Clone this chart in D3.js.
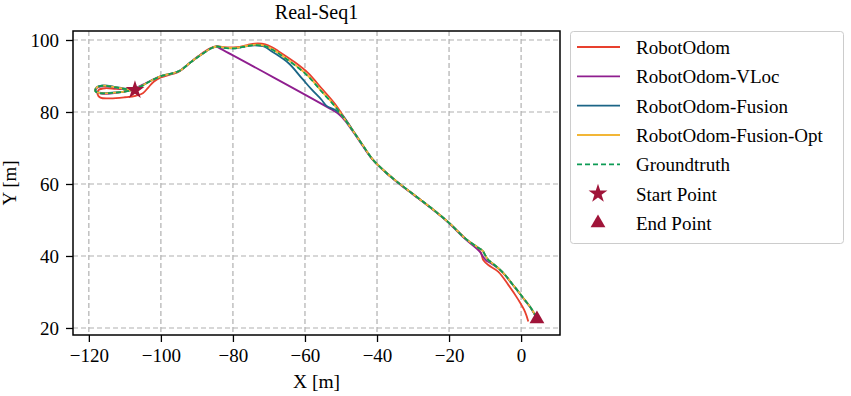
<!DOCTYPE html>
<html>
<head>
<meta charset="utf-8">
<script src="https://cdn.jsdelivr.net/npm/d3@7.9.0/dist/d3.min.js"></script>
<style>
  body { margin: 0; background: #fff; }
  svg text { font-family: "Liberation Serif", "DejaVu Serif", serif; fill: #000; }
</style>
</head>
<body>
<svg id="chart" width="851" height="396"></svg>
<script>
// trajectory data, [x, y] in metres
const groundtruth = [
  [-107.2, 86.1], [-110, 86.4], [-113, 86.9], [-115.8, 87.3], [-117.8, 86.8], [-118.2, 85.8],
  [-116.5, 85.2], [-113.5, 85.3], [-110.5, 85.6], [-107.5, 86.2], [-105, 87.4], [-102.5, 88.8],
  [-99.5, 90.1], [-96.5, 90.8], [-94.5, 91.6], [-92, 93.6], [-89, 95.8], [-86, 97.7], [-84.5, 98.2],
  [-82.5, 97.8], [-79.5, 97.7], [-76, 98.3], [-73.9, 98.6], [-71.1, 98.3], [-69, 97.3], [-67.4, 96.3],
  [-65, 94.6], [-62.8, 93.0], [-59.1, 89.9], [-55.4, 85.7], [-51.7, 81.6], [-48.9, 77.9], [-46.5, 74.5],
  [-44, 70.8], [-41.1, 66.7], [-37.5, 63.2], [-34.4, 60.6], [-30, 57.2], [-25.3, 53.6], [-20, 49.2],
  [-15.5, 44.9], [-12.2, 42.5], [-10.7, 41.5], [-10, 40.3], [-9.2, 39.0], [-8.4, 38.3], [-6.3, 36.6],
  [-4.4, 34.7], [-2.5, 32.3], [-0.75, 30.1], [1, 27.8], [2.5, 25.9], [3.9, 23.6], [4.4, 22.6]
];
const robotOdom = [
  [-107.2, 86.1], [-109.5, 86.3], [-112.5, 86.4], [-115.5, 86.6], [-117.3, 86.1], [-117.6, 85.0],
  [-116.8, 84.0], [-114, 83.8], [-110, 84.1], [-107, 84.5], [-105, 85.2], [-103.5, 86.8],
  [-102, 88.4], [-100, 89.6], [-97, 90.5], [-95, 91.2], [-92.5, 93.2], [-89.5, 95.6], [-86.5, 97.6],
  [-84.5, 98.3], [-82.5, 98.0], [-79, 98.0], [-76, 98.6], [-73.9, 99.0], [-71, 98.8], [-69, 97.9],
  [-67.4, 96.9], [-62.8, 93.8], [-59.1, 90.8], [-55.4, 86.6], [-51.7, 82.3], [-48.9, 78.2], [-46.5, 74.6],
  [-44, 70.8], [-41.1, 66.7], [-37.5, 63.2], [-34.4, 60.6], [-30, 57.2], [-25.3, 53.6], [-20, 49.2],
  [-15.5, 44.9], [-12.5, 42.4], [-11.2, 41.0], [-10.9, 40.1], [-10.5, 38.9], [-9.1, 37.5], [-6.3, 35.6],
  [-3.5, 31.9], [-0.75, 27.8], [1.1, 24.5], [2.0, 21.8]
];
const robotOdomVLoc = [
  [-107.2, 86.1], [-110, 86.3], [-113, 86.8], [-115.8, 87.2], [-117.7, 86.7], [-118.1, 85.8],
  [-116.5, 85.1], [-113.5, 85.2], [-110.5, 85.6], [-107.5, 86.4], [-105, 87.6], [-102.5, 88.9],
  [-99.5, 90.1], [-96.5, 90.8], [-94.5, 91.6], [-92, 93.6], [-89, 95.8], [-86, 97.7], [-84.5, 98.1],
  [-83.5, 97.6], [-52.5, 80.6], [-50.5, 79.3], [-48.9, 77.6], [-46.5, 74.3], [-44, 70.6], [-41.1, 66.6],
  [-37.5, 63.1], [-34.4, 60.5], [-30, 57.1], [-25.3, 53.5], [-20, 49.1], [-15.5, 44.7], [-12.5, 42.2],
  [-11.3, 41.0], [-10.5, 39.7], [-9.5, 38.6], [-8.4, 38.0], [-6.3, 36.5], [-4.4, 34.6], [-2.5, 32.2],
  [-0.75, 30.0], [1, 27.7], [2.5, 25.8], [3.9, 23.5], [4.4, 22.6]
];
const robotOdomFusion = [
  [-107.2, 86.1], [-110, 86.5], [-113, 87.0], [-115.8, 87.4], [-117.8, 86.9], [-118.2, 85.9],
  [-116.5, 85.3], [-113.5, 85.4], [-110.5, 85.6], [-107.5, 86.2], [-105, 87.4], [-102.5, 88.8],
  [-99.5, 90.1], [-96.5, 90.8], [-94.5, 91.6], [-92, 93.6], [-89, 95.8], [-86, 97.7], [-84.5, 98.2],
  [-82.5, 97.8], [-79.5, 97.7], [-76, 98.3], [-73.9, 98.5], [-71.1, 98.1], [-69.3, 96.9], [-64.6, 93.6],
  [-60.9, 89.4], [-58.1, 86.2], [-55.4, 83.4], [-54, 81.7], [-51.7, 80.6], [-49.4, 78.8], [-47, 75.3],
  [-44, 70.8], [-41.1, 66.7], [-37.5, 63.2], [-34.4, 60.6], [-30, 57.2], [-25.3, 53.6], [-20, 49.2],
  [-15.5, 44.9], [-12.2, 42.5], [-10.7, 41.5], [-10, 40.3], [-9.2, 39.0], [-8.4, 38.3], [-6.3, 36.6],
  [-4.4, 34.7], [-2.5, 32.3], [-0.75, 30.1], [1, 27.8], [2.5, 25.9], [3.9, 23.6], [4.4, 22.6]
];
const robotOdomFusionOpt = [
  [-107.2, 86.1], [-110, 86.4], [-113, 86.9], [-115.8, 87.3], [-117.8, 86.8], [-118.2, 85.8],
  [-116.5, 85.2], [-113.5, 85.3], [-110.5, 85.6], [-107.5, 86.2], [-105, 87.4], [-102.5, 88.8],
  [-99.5, 90.1], [-96.5, 90.8], [-94.5, 91.6], [-92, 93.6], [-89, 95.8], [-86, 97.7], [-84.5, 98.2],
  [-82.5, 97.9], [-79.5, 97.8], [-76, 98.4], [-73.9, 98.7], [-71.1, 98.4], [-69, 97.4], [-67.4, 96.4],
  [-65, 94.7], [-62.8, 93.1], [-59.1, 90.0], [-55.4, 85.8], [-51.7, 81.7], [-48.9, 77.9], [-46.5, 74.5],
  [-44, 70.8], [-41.1, 66.7], [-37.5, 63.2], [-34.4, 60.6], [-30, 57.2], [-25.3, 53.6], [-20, 49.2],
  [-15.5, 44.9], [-12.2, 42.5], [-10.7, 41.5], [-10, 40.3], [-9.2, 39.0], [-8.4, 38.3], [-6.3, 36.6],
  [-4.4, 34.7], [-2.5, 32.3], [-0.75, 30.1], [1, 27.8], [2.5, 25.9], [3.9, 23.6], [4.4, 22.6]
];
const startPoint = [-107.2, 86.1];
const endPoint = [4.4, 22.2];

const xTicks = [-120, -100, -80, -60, -40, -20, 0];
const yTicks = [20, 40, 60, 80, 100];

const seriesNames = ["RobotOdom", "RobotOdom-VLoc", "RobotOdom-Fusion", "RobotOdom-Fusion-Opt", "Groundtruth"];
const seriesData = [robotOdom, robotOdomVLoc, robotOdomFusion, robotOdomFusionOpt, groundtruth];
const seriesColors = ["#e8402e", "#8f1e8f", "#1b6586", "#f2b636", "#0d9b55"];
const markerColor = "#a01439";

const svg = d3.select("#chart");
const plotLeft = 73, plotRight = 560, plotTop = 31, plotBottom = 335;

const x = d3.scaleLinear().domain([-124.4, 10.8]).range([plotLeft, plotRight]);
const y = d3.scaleLinear().domain([18.05, 102.5]).range([plotBottom, plotTop]);

// grid
svg.append("g")
  .selectAll("line")
  .data(xTicks)
  .join("line")
  .attr("x1", (d) => x(d)).attr("x2", (d) => x(d))
  .attr("y1", plotTop).attr("y2", plotBottom)
  .attr("stroke", "#b0b0b0").attr("stroke-width", 1.2).attr("stroke-dasharray", "5,3");
svg.append("g")
  .selectAll("line")
  .data(yTicks)
  .join("line")
  .attr("y1", (d) => y(d)).attr("y2", (d) => y(d))
  .attr("x1", plotLeft).attr("x2", plotRight)
  .attr("stroke", "#b0b0b0").attr("stroke-width", 1.2).attr("stroke-dasharray", "5,3");

// trajectories
const line = d3.line()
  .x((d) => x(d[0]))
  .y((d) => y(d[1]))
  .curve(d3.curveCatmullRom.alpha(0.5));

const plot = svg.append("g");
seriesData.forEach((data, i) => {
  plot.append("path")
    .attr("d", line(data))
    .attr("fill", "none")
    .attr("stroke", seriesColors[i])
    .attr("stroke-width", 1.8)
    .attr("stroke-linejoin", "round")
    .attr("stroke-dasharray", i === 4 ? "5,3" : null);
});

// start / end markers
plot.append("path")
  .attr("d", d3.symbol(d3.symbolStar, 110)())
  .attr("transform", `translate(${x(startPoint[0])},${y(startPoint[1])})`)
  .attr("fill", markerColor);
plot.append("path")
  .attr("d", d3.symbol(d3.symbolTriangle, 95)())
  .attr("transform", `translate(${x(endPoint[0])},${y(endPoint[1]) - 1})`)
  .attr("fill", markerColor);

// axes
const xAxis = svg.append("g")
  .attr("transform", `translate(0,${plotBottom})`)
  .call(d3.axisBottom(x).tickValues(xTicks).tickSize(7).tickPadding(7)
    .tickFormat((d) => (d < 0 ? "\u2212" + Math.abs(d) : d)));
const yAxis = svg.append("g")
  .attr("transform", `translate(${plotLeft},0)`)
  .call(d3.axisLeft(y).tickValues(yTicks).tickSize(7).tickPadding(7));
[xAxis, yAxis].forEach((g) => {
  g.select(".domain").remove();
  g.selectAll(".tick line").attr("stroke", "#000").attr("stroke-width", 1.3);
  g.selectAll(".tick text")
    .attr("font-family", null)
    .style("font-family", "'Liberation Serif', serif")
    .style("font-size", "19px");
});

svg.append("rect")
  .attr("x", plotLeft).attr("y", plotTop)
  .attr("width", plotRight - plotLeft).attr("height", plotBottom - plotTop)
  .attr("fill", "none").attr("stroke", "#000").attr("stroke-width", 1.5);

// labels
svg.append("text")
  .attr("x", (plotLeft + plotRight) / 2).attr("y", 18.5)
  .attr("text-anchor", "middle").style("font-size", "20px")
  .text("Real-Seq1");
svg.append("text")
  .attr("x", (plotLeft + plotRight) / 2).attr("y", 388)
  .attr("text-anchor", "middle").style("font-size", "19.5px")
  .text("X [m]");
svg.append("text")
  .attr("transform", `translate(16,${(plotTop + plotBottom) / 2}) rotate(-90)`)
  .attr("text-anchor", "middle").style("font-size", "19px")
  .text("Y [m]");

// legend
const legend = svg.append("g");
legend.append("rect")
  .attr("x", 570.5).attr("y", 31.5).attr("width", 273).attr("height", 212)
  .attr("rx", 3).attr("fill", "#fff").attr("stroke", "#cccccc");

const legendItems = seriesNames.concat(["Start Point", "End Point"]);
legendItems.forEach((name, i) => {
  const cy = 47 + i * 29.33;
  if (i < 5) {
    legend.append("line")
      .attr("x1", 577).attr("x2", 620).attr("y1", cy).attr("y2", cy)
      .attr("stroke", seriesColors[i]).attr("stroke-width", 1.8)
      .attr("stroke-dasharray", i === 4 ? "5,3" : null);
  } else {
    legend.append("path")
      .attr("d", d3.symbol(i === 5 ? d3.symbolStar : d3.symbolTriangle, i === 5 ? 110 : 95)())
      .attr("transform", `translate(598,${cy})`)
      .attr("fill", markerColor);
  }
  legend.append("text")
    .attr("x", 636).attr("y", cy + 7)
    .style("font-size", "19px")
    .text(name);
});
</script>
</body>
</html>
